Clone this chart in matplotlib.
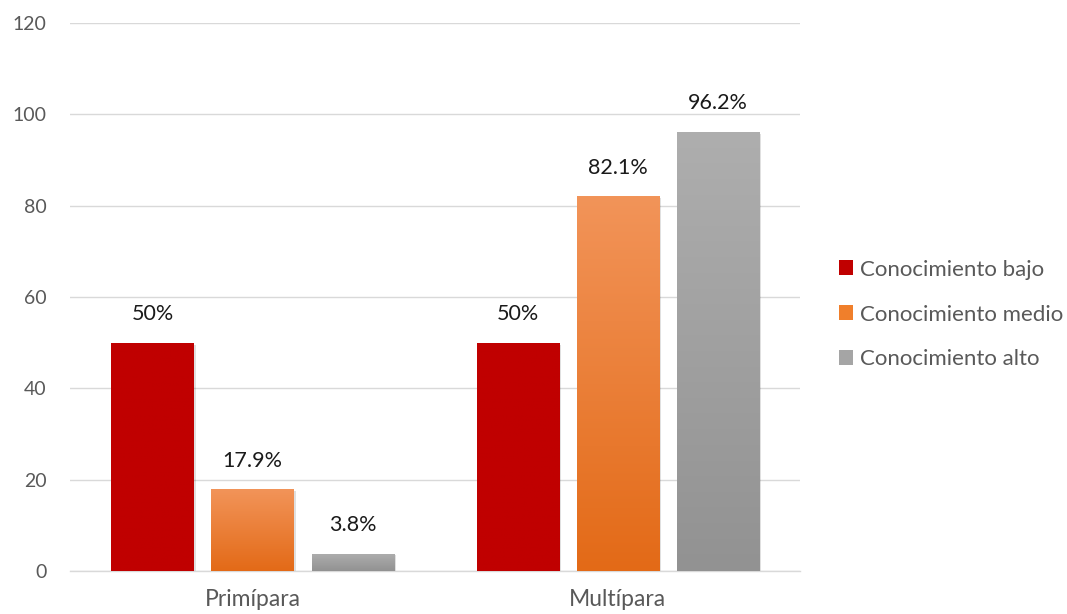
import numpy as np
import matplotlib.pyplot as plt
from matplotlib.patches import Patch
from matplotlib.colors import LinearSegmentedColormap

plt.rcParams['font.family'] = ['Lato', 'DejaVu Sans']

categorias = ['Primípara', 'Multípara']
series = ['Conocimiento bajo', 'Conocimiento medio', 'Conocimiento alto']
bajo = [50, 50]
medio = [17.9, 82.1]
alto = [3.8, 96.2]
etiquetas = [['50%', '50%'], ['17.9%', '82.1%'], ['3.8%', '96.2%']]

# degradado de cada serie (abajo, arriba)
degradados = [('#C00000', '#C00000'), ('#E36A17', '#F29459'), ('#929292', '#AEAEAE')]
colores_leyenda = ['#C00000', '#F07F2B', '#A5A5A5']

fig = plt.figure(figsize=(10.67, 6.14), dpi=100)
ax = fig.add_axes([0.0656, 0.070, 0.6844, 0.8925])

x = np.arange(len(categorias))
ancho = 0.225
paso = 0.274

for i, (vals, (c_bot, c_top)) in enumerate(zip([bajo, medio, alto], degradados)):
    pos = x + (i - 1) * paso
    # sombra suave
    ax.bar(pos + 0.006, vals, ancho, bottom=-0.4, color='#000000', alpha=0.12, zorder=2)
    bars = ax.bar(pos, vals, ancho, color='none', zorder=3)
    cmap = LinearSegmentedColormap.from_list('g%d' % i, [c_bot, c_top])
    for b, lab in zip(bars, etiquetas[i]):
        bx, by = b.get_x(), b.get_y()
        w, h = b.get_width(), b.get_height()
        grad = np.linspace(0, 1, 256).reshape(-1, 1)
        im = ax.imshow(grad, cmap=cmap, origin='lower', aspect='auto',
                       extent=[bx, bx + w, by, by + h], zorder=3)
        im.set_clip_path(b)
        ax.text(bx + w / 2, h + 4, lab, ha='center', va='bottom',
                fontsize=15.5, color='#1a1a1a', zorder=4)

ax.set_xlim(-0.5, 1.5)
ax.set_ylim(0, 120)
ax.set_yticks(range(0, 121, 20))
ax.set_xticks(x)
ax.set_xticklabels(categorias)
ax.tick_params(axis='both', length=0, labelcolor='#595959')
ax.tick_params(axis='y', pad=17, labelsize=14)
ax.tick_params(axis='x', pad=13, labelsize=16.5)
ax.grid(axis='y', color='#D9D9D9', linewidth=1, zorder=0)
ax.set_axisbelow(True)
for s in ['top', 'right', 'left']:
    ax.spines[s].set_visible(False)
ax.spines['bottom'].set_color('#D9D9D9')
ax.spines['bottom'].set_linewidth(1)

handles = [Patch(facecolor=c, edgecolor='none') for c in colores_leyenda]
ax.legend(handles, series, loc='center left', bbox_to_anchor=(1.025, 0.468),
          frameon=False, fontsize=16, labelcolor='#595959',
          handlelength=0.65, handleheight=0.65, handletextpad=0.3,
          labelspacing=1.12)

fig.savefig('out.png', dpi=100)
